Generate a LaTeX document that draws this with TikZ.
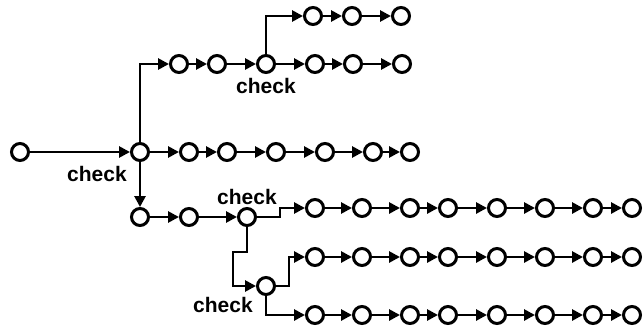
\documentclass[tikz,border=0pt]{standalone}
\usepackage{fontspec}
\setmainfont{Liberation Sans}
\usetikzlibrary{arrows.meta}
\begin{document}
\begin{tikzpicture}[x=1pt,y=-1pt,
  st/.style={circle, draw, line width=3pt, fill=white, minimum size=17pt, inner sep=0pt},
  ar/.style={line width=2.8pt, -{Triangle[length=11pt,width=11pt]}},
  lbl/.style={font=\fontsize{21}{24}\selectfont\bfseries, inner sep=0pt}]
\useasboundingbox (0,0) rectangle (643,332);
% main row
\node[st] (a) at (20,152) {};
\node[st] (b) at (140,152) {};
\foreach \i/\x in {1/189,2/227,3/276,4/325,5/373,6/410}
  \node[st] (m\i) at (\x,152) {};
% top branch
\node[st] (t1) at (179,64) {};
\node[st] (t2) at (217,64) {};
\node[st] (c) at (266,64) {};
\node[st] (u1) at (315,64) {};
\node[st] (u2) at (353,64) {};
\node[st] (u3) at (402,64) {};
\node[st] (v1) at (313,16) {};
\node[st] (v2) at (352,16) {};
\node[st] (v3) at (401,16) {};
% lower branch
\node[st] (d) at (140,217) {};
\node[st] (d2) at (189,217) {};
\node[st] (e) at (247,217) {};
\node[st] (f) at (266,286) {};
\foreach \i/\x in {1/315,2/362,3/410,4/448,5/497,6/545,7/593,8/632}{
  \node[st] (p\i) at (\x,208) {};
  \node[st] (q\i) at (\x,257) {};
  \node[st] (r\i) at (\x,315) {};
}
% helper coordinates
\coordinate (e1) at (280,217);
\coordinate (k1) at (247,252);
\coordinate (k2) at (233,252);
\coordinate (g1) at (289,286);
% connectors
\draw[ar] (a) -- (b);
\draw[ar] (b) -- (m1);
\foreach \i/\j in {1/2,2/3,3/4,4/5,5/6} \draw[ar] (m\i) -- (m\j);
\draw[ar] (b.north) |- (t1);
\draw[ar] (t1) -- (t2);
\draw[ar] (t2) -- (c);
\draw[ar] (c) -- (u1);
\draw[ar] (u1) -- (u2);
\draw[ar] (u2) -- (u3);
\draw[ar] (c.north) |- (v1);
\draw[ar] (v1) -- (v2);
\draw[ar] (v2) -- (v3);
\draw[ar] (b) -- (d);
\draw[ar] (d) -- (d2);
\draw[ar] (d2) -- (e);
\draw[ar] (e.east) -- (e1) |- (p1);
\draw[ar] (e.south) -- (k1) -- (k2) |- (f);
\draw[ar] (f.east) -- (g1) |- (q1);
\draw[ar] (f.south) |- (r1);
\foreach \i/\j in {1/2,2/3,3/4,4/5,5/6,6/7,7/8}{
  \draw[ar] (p\i) -- (p\j);
  \draw[ar] (q\i) -- (q\j);
  \draw[ar] (r\i) -- (r\j);
}
% labels
\node[lbl] (lb) at (97,174) {check};
\node[lbl] (lc) at (266,86) {check};
\node[lbl] (le) at (247,197) {check};
\node[lbl] (lf) at (223,305) {check};
\end{tikzpicture}
\end{document}
